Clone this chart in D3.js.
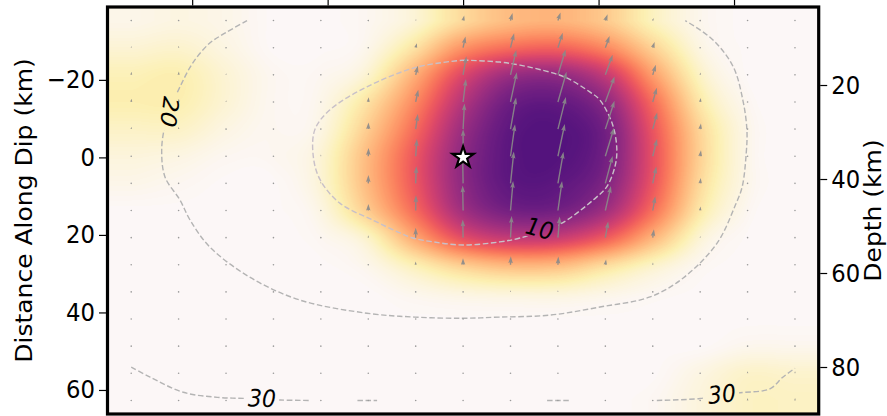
<!DOCTYPE html>
<html>
<head>
<meta charset="utf-8">
<script src="https://cdn.jsdelivr.net/npm/d3@7"></script>
<style>
  html, body { margin: 0; padding: 0; background: #fff; }
  svg { display: block; font-family: "DejaVu Sans", sans-serif; }
</style>
</head>
<body>
<svg id="chart" width="887" height="416"></svg>
<script>

// subfault centres, km
const strikeKm = [-49, -42, -35, -28, -21, -14, -7, 0, 7, 14, 21, 28, 35, 42, 49];
const dipKm    = [-35.3, -28.3, -21.3, -14.3, -7.3, -0.3, 6.7, 13.7, 20.7, 27.7, 34.7, 41.7, 48.7, 55.7, 62.7];

// slip (m), one row per dip position, top row first
const slip = [
  [0.08, 0.12, 0.08, 0,    0,    0.04, 0.2,  0.64, 0.96, 1.04, 0.8,  0.32, 0.06, 0,    0],
  [0.2,  0.24, 0.12, 0,    0,    0.08, 0.56, 1.4,  1.8,  1.9,  1.5,  0.72, 0.12, 0,    0],
  [0.36, 0.4,  0.2,  0.04, 0.04, 0.24, 1.12, 2.3,  3.1,  3.2,  2.6,  1.28, 0.28, 0,    0],
  [0.4,  0.4,  0.2,  0.04, 0.08, 0.56, 1.52, 2.8,  3.68, 3.8,  3.28, 1.8,  0.48, 0.04, 0],
  [0.28, 0.28, 0.12, 0.04, 0.12, 0.8,  1.84, 3.12, 3.88, 4.0,  3.6,  2.08, 0.68, 0.08, 0],
  [0.16, 0.12, 0.04, 0.04, 0.2,  1.0,  2.08, 3.28, 3.92, 4.0,  3.6,  2.16, 0.72, 0.08, 0],
  [0.08, 0.04, 0,    0,    0.2,  1.0,  2.08, 3.28, 3.88, 3.88, 3.44, 2.08, 0.64, 0.08, 0],
  [0,    0,    0,    0,    0.12, 0.8,  1.84, 3.04, 3.6,  3.6,  3.04, 1.76, 0.48, 0.04, 0],
  [0,    0,    0,    0,    0.04, 0.28, 1.2,  2.2,  2.64, 2.56, 2.0,  1.04, 0.2,  0,    0],
  [0,    0,    0,    0,    0,    0.08, 0.4,  0.8,  1.04, 1.0,  0.64, 0.28, 0.04, 0,    0],
  [0,    0,    0,    0,    0,    0,    0.08, 0.16, 0.2,  0.2,  0.12, 0.04, 0,    0,    0],
  [0,    0,    0,    0,    0,    0,    0,    0,    0,    0,    0,    0,    0,    0,    0],
  [0,    0,    0,    0,    0,    0,    0,    0,    0,    0,    0,    0,    0,    0.06, 0.06],
  [0,    0,    0,    0,    0,    0,    0,    0,    0,    0,    0,    0,    0.12, 0.26, 0.24],
  [0,    0,    0,    0,    0,    0,    0,    0,    0,    0,    0,    0.03, 0.16, 0.3,  0.3]
];

// rake (deg, 90 = pure up-dip)
const rake = [
  [85, 85, 85, 90, 90, 85, 75, 78, 75, 72, 70, 72, 80, 90, 90],
  [85, 85, 85, 90, 90, 85, 75, 78, 76, 72, 70, 72, 80, 90, 90],
  [85, 85, 85, 90, 90, 85, 76, 80, 77, 73, 70, 73, 80, 90, 90],
  [85, 85, 85, 90, 90, 86, 78, 83, 78, 74, 70, 74, 80, 90, 90],
  [85, 85, 85, 90, 90, 88, 82, 87, 80, 76, 72, 75, 82, 90, 90],
  [88, 88, 88, 90, 90, 88, 86, 90, 82, 78, 73, 76, 82, 90, 90],
  [90, 90, 90, 90, 90, 89, 88, 91, 84, 80, 75, 78, 84, 90, 90],
  [90, 90, 90, 90, 90, 89, 89, 91, 85, 82, 77, 80, 85, 90, 90],
  [90, 90, 90, 90, 90, 90, 90, 91, 87, 85, 80, 82, 86, 90, 90],
  [90, 90, 90, 90, 90, 90, 90, 91, 88, 87, 82, 84, 88, 90, 90],
  [90, 90, 90, 90, 90, 90, 90, 90, 90, 90, 90, 90, 90, 90, 90],
  [90, 90, 90, 90, 90, 90, 90, 90, 90, 90, 90, 90, 90, 90, 90],
  [90, 90, 90, 90, 90, 90, 90, 90, 90, 90, 90, 90, 88, 88, 88],
  [90, 90, 90, 90, 90, 90, 90, 90, 90, 90, 90, 90, 88, 88, 88],
  [90, 90, 90, 90, 90, 90, 90, 90, 90, 90, 90, 90, 88, 88, 88]
];

// rupture-time contours (s), [along strike, along dip] in km
const contour10 = [[
  [0, -25.1], [5.4, -24.6], [8.4, -23.8], [12.8, -22.0], [15.3, -20.5], [18.7, -16.9],
  [20.2, -14.8], [22.1, -8.3], [22.7, -1.9], [22.4, 2.5], [21.2, 7.6], [19.2, 11.0],
  [15.3, 16.2], [13.3, 18.0], [8.4, 20.8], [5.4, 21.8], [0, 22.6], [-4.4, 21.8],
  [-7.4, 20.8], [-9.3, 19.5], [-13.3, 16.2], [-18.2, 11.8], [-21.1, 5.8], [-22.1, 0],
  [-21.9, -7.1], [-19.7, -12.2], [-14.2, -18.2], [-6.8, -23.3], [0, -25.1]
]];
const contour20 = [[
  [-31.9, -35.3], [-35.1, -32.1], [-37.4, -29.5], [-39.9, -24.4], [-41.8, -18.2],
  [-43.0, -13.5], [-44.0, -8.3], [-44.5, -1.9], [-44.0, 5.1], [-41.8, 11.0],
  [-40.3, 16.2], [-37.4, 23.1], [-31.5, 30.9], [-24.1, 36.8], [-14.2, 40.2],
  [-7.1, 41.2], [0, 41.5], [5.4, 41.2], [12.8, 40.7], [20.2, 38.6], [27.6, 36.0],
  [32.5, 31.1], [37.5, 22.1], [40.2, 12.3], [41.2, 7.6], [41.8, -1.1], [41.9, -7.1],
  [41.3, -14.8], [39.9, -23.3], [36.9, -30.3], [32.8, -35.3]
]];
const contour30 = [
  [[-49.0, 54.1], [-46.2, 56.7], [-41.3, 60.6], [-36.3, 61.9], [-31.9, 62.2], [-27.0, 62.6], [-22.6, 62.7]],
  [[-15.6, 62.7], [-12.7, 62.7]],
  [[12.4, 62.7], [15.8, 62.7]],
  [[28.6, 62.7], [35.0, 62.2], [38.2, 61.2], [40.9, 60.7], [45.3, 59.7], [47.2, 56.7], [49.0, 54.4]]
];

// contour labels: text, position (km), angle
const labelText  = ['10', '20', '30', '30'];
const labelPos   = [[11.3, 18.3], [-43.3, -11.7], [-29.7, 62.1], [38.2, 61.0]];
const labelAngle = [14, 98, 2, -6];

const hypocentre = [0, 0];

const strikeTicks = [-40, -20, 0, 20, 40];
const dipTicks    = [-20, 0, 20, 40, 60];
const depthTicks  = [20, 40, 60, 80];


const plot = { left: 107.5, right: 818.7, top: 7, bottom: 414 };
const fontSize = 25;
const squeeze = 0.91;   // the figure is a bit narrower than tall

const x = d3.scaleLinear().domain([-52.5, 52.5]).range([plot.left, plot.right]);
const y = d3.scaleLinear().domain([-38.8, 66.2]).range([plot.top, plot.bottom]);
const yDepth = d3.scaleLinear().domain([3.4, 90]).range([plot.top, plot.bottom]);

const svg = d3.select('#chart');
const defs = svg.append('defs');

defs.append('clipPath').attr('id', 'plotClip')
  .append('rect')
    .attr('x', plot.left).attr('y', plot.top)
    .attr('width', plot.right - plot.left).attr('height', plot.bottom - plot.top);


// ---- slip image (smoothed like imshow bicubic) ----
const maxSlip = d3.max(slip.flat());
const bg = '#fcf7f7';

function slipColour(t) {
  if (t <= 0) return bg;
  if (t < 0.1) return d3.interpolateRgb(bg, d3.interpolateMagma(0.97))(t / 0.1);
  return d3.interpolateMagma(0.97 - Math.min(1, (t - 0.1) / 0.9) * 0.71);
}

const lut = d3.range(256).map(i => d3.rgb(slipColour(i / 255)));

const gi = d3.scaleLinear().domain([strikeKm[0], strikeKm[strikeKm.length - 1]]).range([0, strikeKm.length - 1]);
const gj = d3.scaleLinear().domain([dipKm[0], dipKm[dipKm.length - 1]]).range([0, dipKm.length - 1]);

function cubic(p0, p1, p2, p3, t) {
  return p1 + 0.5 * t * (p2 - p0 + t * (2 * p0 - 5 * p1 + 4 * p2 - p3 + t * (3 * (p1 - p2) + p3 - p0)));
}

function sample(fi, fj) {
  const ni = strikeKm.length, nj = dipKm.length;
  fi = Math.max(0, Math.min(ni - 1, fi));
  fj = Math.max(0, Math.min(nj - 1, fj));
  const i0 = Math.floor(fi), j0 = Math.floor(fj);
  const ti = fi - i0, tj = fj - j0;
  const ci = k => Math.max(0, Math.min(ni - 1, k));
  const cj = k => Math.max(0, Math.min(nj - 1, k));
  const rows = [-1, 0, 1, 2].map(d => {
    const r = slip[cj(j0 + d)];
    return cubic(r[ci(i0 - 1)], r[ci(i0)], r[ci(i0 + 1)], r[ci(i0 + 2)], ti);
  });
  return cubic(rows[0], rows[1], rows[2], rows[3], tj);
}

const pw = Math.round(plot.right - plot.left);
const ph = Math.round(plot.bottom - plot.top);
const canvas = document.createElement('canvas');
canvas.width = pw;
canvas.height = ph;
const ctx = canvas.getContext('2d');
const img = ctx.createImageData(pw, ph);

for (let py = 0; py < ph; py++) {
  const fj = gj(y.invert(plot.top + py + 0.5));
  for (let px = 0; px < pw; px++) {
    const fi = gi(x.invert(plot.left + px + 0.5));
    const t = Math.max(0, Math.min(1, sample(fi, fj) / maxSlip));
    const c = lut[Math.round(t * 255)];
    const k = (py * pw + px) * 4;
    img.data[k] = c.r; img.data[k + 1] = c.g; img.data[k + 2] = c.b; img.data[k + 3] = 255;
  }
}
ctx.putImageData(img, 0, 0);

svg.append('image')
    .attr('x', plot.left).attr('y', plot.top)
    .attr('width', plot.right - plot.left).attr('height', plot.bottom - plot.top)
    .attr('preserveAspectRatio', 'none')
    .attr('href', canvas.toDataURL());


// ---- rupture-time contours ----
const labelTransform = i =>
  `translate(${x(labelPos[i][0])},${y(labelPos[i][1])}) scale(${squeeze},1) rotate(${labelAngle[i]})`;

const mask = defs.append('mask').attr('id', 'labelGaps')
    .attr('maskUnits', 'userSpaceOnUse')
    .attr('x', 0).attr('y', 0).attr('width', 887).attr('height', 416);
mask.append('rect').attr('width', 887).attr('height', 416).attr('fill', 'white');
labelText.forEach((txt, i) => {
  mask.append('rect')
      .attr('x', -19).attr('y', -11).attr('width', 38).attr('height', 22)
      .attr('fill', 'black')
      .attr('transform', labelTransform(i));
});

const line = d3.line()
    .x(d => x(d[0]))
    .y(d => y(d[1]))
    .curve(d3.curveCatmullRom.alpha(0.5));

const contourG = svg.append('g')
    .attr('clip-path', 'url(#plotClip)')
  .append('g')
    .attr('mask', 'url(#labelGaps)');

contourG.selectAll('path')
  .data([...contour10, ...contour20, ...contour30])
  .enter().append('path')
    .attr('d', line)
    .attr('fill', 'none')
    .attr('stroke', (d, i) => i === 0 ? '#c8c0c8' : '#b4b4b4')
    .attr('stroke-width', 1.4)
    .attr('stroke-dasharray', '5.5,2.6');


// ---- rake vectors (quiver, tail at subfault centre) ----
const arrowLen = d3.scaleLinear().domain([0, maxSlip]).range([0, 33]);
const shaftW = 1.4, headW = 4.6, headL = 7, headAxL = 6.2;

function arrowShape(L) {
  let s = 1, len = L;
  if (L < headL) { s = L / headL; len = headL; }
  const pts = [[0, -shaftW / 2], [len - headAxL, -shaftW / 2], [len - headL, -headW / 2], [len, 0],
               [len - headL, headW / 2], [len - headAxL, shaftW / 2], [0, shaftW / 2]];
  return 'M' + pts.map(p => [p[0] * s, p[1] * s].join(',')).join('L') + 'Z';
}

const vectors = [];
dipKm.forEach((dk, j) => strikeKm.forEach((sk, i) => {
  vectors.push({ sk, dk, slip: slip[j][i], rake: rake[j][i] });
}));

const quiver = svg.append('g').attr('clip-path', 'url(#plotClip)');

quiver.selectAll('g.vec')
  .data(vectors)
  .enter().append('g')
    .attr('class', 'vec')
    .attr('transform', d => `translate(${x(d.sk)},${y(d.dk)}) rotate(${-d.rake})`)
    .each(function(d) {
      const L = arrowLen(d.slip);
      const g = d3.select(this);
      if (L < shaftW) {
        g.append('circle').attr('r', 0.8).attr('fill', '#9a9a9a');
      } else {
        g.append('path').attr('d', arrowShape(L)).attr('fill', '#8a8a8a').attr('fill-opacity', 0.9);
      }
    });


// ---- contour labels ----
svg.append('g').selectAll('text')
  .data(labelText)
  .enter().append('text')
    .attr('transform', (d, i) => labelTransform(i))
    .attr('text-anchor', 'middle')
    .attr('dy', '0.36em')
    .attr('font-size', 24)
    .attr('font-style', 'italic')
    .attr('fill', '#000')
    .text(d => d);


// ---- hypocentre ----
svg.append('path')
    .attr('d', d3.symbol(d3.symbolStar, 140)())
    .attr('transform', `translate(${x(hypocentre[0])},${y(hypocentre[1])})`)
    .attr('fill', '#fff')
    .attr('stroke', '#000')
    .attr('stroke-width', 2.2)
    .attr('stroke-linejoin', 'miter');


// ---- axes ----
function styleAxis(g) {
  g.select('.domain').remove();
  g.selectAll('.tick line').attr('stroke', '#000').attr('stroke-width', 1.2);
  g.selectAll('.tick text')
      .attr('fill', '#000')
      .attr('x', function() { return +d3.select(this).attr('x') / squeeze; })
      .attr('transform', `scale(${squeeze},1)`);
  g.attr('font-size', fontSize).attr('font-family', '"DejaVu Sans", sans-serif');
}

svg.append('g')
    .attr('transform', `translate(${plot.left - 1.5},0)`)
    .call(d3.axisLeft(y).tickValues(dipTicks).tickSize(7).tickPadding(4))
    .call(styleAxis);

svg.append('g')
    .attr('transform', `translate(${plot.right + 1.5},0)`)
    .call(d3.axisRight(yDepth).tickValues(depthTicks).tickSize(7).tickPadding(4))
    .call(styleAxis);

svg.append('g')
    .attr('transform', `translate(0,${plot.top - 1.5})`)
    .call(d3.axisTop(x).tickValues(strikeTicks).tickFormat('').tickSize(7))
    .call(styleAxis);

svg.append('rect')
    .attr('x', plot.left).attr('y', plot.top)
    .attr('width', plot.right - plot.left).attr('height', plot.bottom - plot.top)
    .attr('fill', 'none')
    .attr('stroke', '#000')
    .attr('stroke-width', 3.2);

svg.append('text')
    .attr('transform', `translate(32,${(plot.top + plot.bottom) / 2}) scale(${squeeze},1) rotate(-90)`)
    .attr('text-anchor', 'middle')
    .attr('font-size', fontSize)
    .text('Distance Along Dip (km)');

svg.append('text')
    .attr('transform', `translate(881,${(plot.top + plot.bottom) / 2}) scale(${squeeze},1) rotate(-90)`)
    .attr('text-anchor', 'middle')
    .attr('font-size', fontSize)
    .text('Depth (km)');

</script>
</body>
</html>
